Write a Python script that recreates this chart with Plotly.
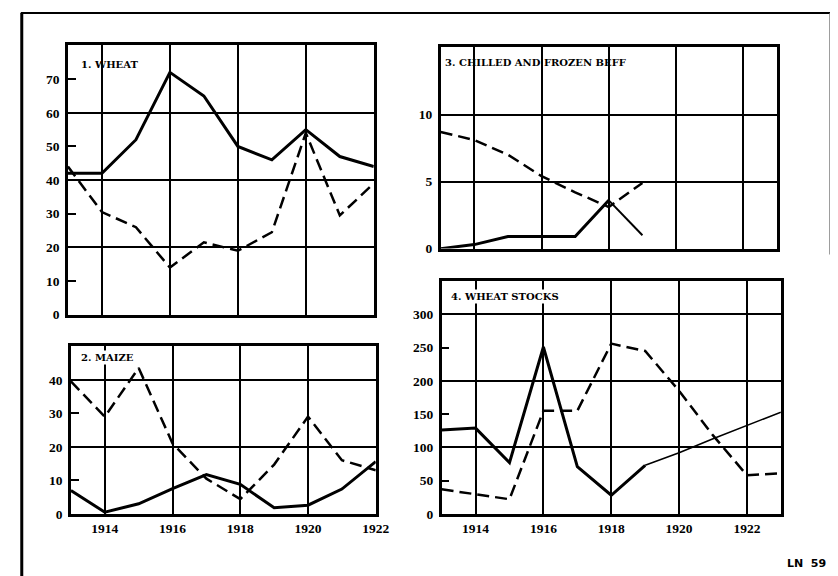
import plotly.graph_objects as go

# ---------------- data ----------------
years = [1913, 1914, 1915, 1916, 1917, 1918, 1919, 1920, 1921, 1922]
wheat_solid = [42, 42, 52, 72, 65, 50, 46, 55, 47, 44]
wheat_dashed = [44, 30.5, 26, 14, 21.5, 19, 24.5, 54, 29.5, 39]

maize_solid = [7, 0.5, 3, 7.5, 11.7, 8.8, 1.8, 2.6, 7.4, 15.6]
maize_dashed = [39.5, 29, 43.5, 21, 10.5, 4.4, 14.7, 29, 16, 13]

beef_years = [1913, 1914, 1915, 1916, 1917, 1918]
beef_solid = [0, 0.3, 0.9, 0.9, 0.9, 3.6]
beef_solid_tail_years = [1918, 1919]
beef_solid_tail = [3.6, 1.0]
beef_dashed_years = [1913, 1914, 1915, 1916, 1917, 1918, 1919]
beef_dashed = [8.7, 8.1, 7.0, 5.4, 4.2, 3.1, 4.9]

stock_years = [1913, 1914, 1915, 1916, 1917, 1918, 1919]
stock_solid = [126, 129, 77, 251, 71, 28, 73]
stock_tail_years = [1919, 1920, 1921, 1922, 1923]
stock_tail = [73, 92, 113, 133, 153]
stock_dashed_years = [1913, 1914, 1915, 1916, 1917, 1918, 1919, 1920, 1921, 1922, 1923]
stock_dashed = [37, 30, 22, 155, 155, 256, 245, 185, 118, 58, 61]

titles = ["1. WHEAT", "2. MAIZE", "3. CHILLED AND FROZEN BEFF", "4. WHEAT STOCKS"]
x_ticks_a = [1914, 1916, 1918, 1920, 1922]
y_ticks_wheat = [0, 10, 20, 30, 40, 50, 60, 70]
y_ticks_maize = [0, 10, 20, 30, 40]
y_ticks_beef = [0, 5, 10]
y_ticks_stock = [0, 50, 100, 150, 200, 250, 300]

# ---------------- figure ----------------
W, H = 838, 576
DASH = "12px,6px"
fig = go.Figure()

def add(x, y, xa, ya, dashed=False, width=3):
    fig.add_trace(go.Scatter(
        x=x, y=y, xaxis=xa, yaxis=ya, mode="lines",
        line=dict(color="black", width=width, dash=DASH if dashed else "solid"),
        showlegend=False, hoverinfo="skip"))

add(years, wheat_solid, "x", "y")
add(years, wheat_dashed, "x", "y", dashed=True, width=2.5)
add(years, maize_solid, "x2", "y2")
add(years, maize_dashed, "x2", "y2", dashed=True, width=2.5)
add(beef_years, beef_solid, "x3", "y3")
add(beef_solid_tail_years, beef_solid_tail, "x3", "y3", width=2)
add(beef_dashed_years, beef_dashed, "x3", "y3", dashed=True, width=2.5)
add(stock_years, stock_solid, "x4", "y4")
add(stock_tail_years, stock_tail, "x4", "y4", width=1.6)
add(stock_dashed_years, stock_dashed, "x4", "y4", dashed=True, width=2.5)

tick_font = dict(family="Liberation Serif", size=13.5, color="black", weight="bold")

def px_dom_x(a, b):
    return [a / W, b / W]

def px_dom_y(top, bottom):
    return [1 - bottom / H, 1 - top / H]

def xaxis(dom, anchor, rng, labels):
    return dict(domain=dom, anchor=anchor, range=rng, tickvals=x_ticks_a,
                showticklabels=labels, ticks="", showgrid=True, gridcolor="black",
                gridwidth=2, showline=True, mirror=True, linecolor="black",
                linewidth=2.5, zeroline=False, tickfont=tick_font, fixedrange=True,
                ticklabelstandoff=0)

def yaxis(dom, anchor, rng, tv, grid_dtick):
    return dict(domain=dom, anchor=anchor, range=rng, tickvals=tv,
                ticks="inside", ticklen=8, tickwidth=2, tickcolor="black",
                showgrid=False, showline=True, mirror=True, linecolor="black",
                linewidth=2.5, zeroline=False, tickfont=tick_font,
                ticklabelstandoff=3, fixedrange=True,
                minor=dict(tick0=0, dtick=grid_dtick, showgrid=True,
                           gridcolor="black", gridwidth=2, ticks=""))

fig.update_layout(
    width=W, height=H,
    margin=dict(l=0, r=0, t=0, b=0),
    paper_bgcolor="white", plot_bgcolor="white",
    xaxis=xaxis(px_dom_x(61, 372), "y", [1913, 1922], False),
    yaxis=yaxis(px_dom_y(38, 311), "x", [0, 80], y_ticks_wheat, 20),
    xaxis2=xaxis(px_dom_x(64, 374), "y2", [1913, 1922], True),
    yaxis2=yaxis(px_dom_y(343, 513), "x2", [0, 50], y_ticks_maize, 20),
    xaxis3=xaxis(px_dom_x(440, 782), "y3", [1913, 1923], False),
    yaxis3=yaxis(px_dom_y(40, 244), "x3", [0, 15], y_ticks_beef, 5),
    xaxis4=xaxis(px_dom_x(441, 786), "y4", [1913, 1923], True),
    yaxis4=yaxis(px_dom_y(277, 513), "x4", [0, 350], y_ticks_stock, 100),
)

title_font = dict(family="DejaVu Serif", size=10, color="black", weight="bold")
title_pos = [(72, 57, False), (72, 354, True), (442, 55, False), (449, 293, True)]
for t, (px, py, bg) in zip(titles, title_pos):
    fig.add_annotation(text=t, xref="paper", yref="paper", x=px / W, y=1 - py / H,
                       xanchor="left", yanchor="middle", showarrow=False,
                       font=title_font, bgcolor="white" if bg else None, borderpad=1)

fig.add_annotation(text="LN  59", xref="paper", yref="paper", x=834 / W, y=1 - 563 / H,
                   xanchor="right", yanchor="middle", showarrow=False,
                   font=dict(family="DejaVu Sans", size=11, color="black", weight="bold"))

# outer frame of the sheet
fig.add_shape(type="line", xref="paper", yref="paper", x0=14 / W, x1=14 / W,
              y0=0, y1=1 - 5 / H, line=dict(color="black", width=3))
fig.add_shape(type="line", xref="paper", yref="paper", x0=13 / W, x1=837 / W,
              y0=1 - 5 / H, y1=1 - 5 / H, line=dict(color="black", width=2))
fig.add_shape(type="line", xref="paper", yref="paper", x0=836 / W, x1=836 / W,
              y0=1 - 250 / H, y1=1 - 5 / H, line=dict(color="#777777", width=1.5))

fig.write_html("out.html")
